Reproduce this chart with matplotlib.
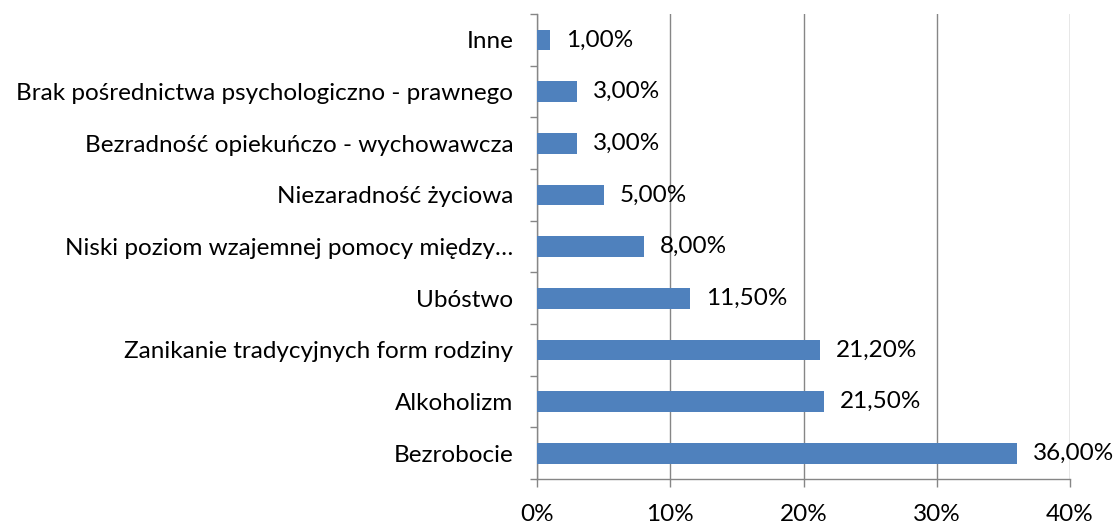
import matplotlib.pyplot as plt
import numpy as np
from matplotlib.ticker import FixedLocator, FuncFormatter

plt.rcParams['font.family'] = ['Lato', 'DejaVu Sans']

categories = ['Bezrobocie', 'Alkoholizm', 'Zanikanie tradycyjnych form rodziny', 'Ubóstwo',
              'Niski poziom wzajemnej pomocy między…', 'Niezaradność życiowa',
              'Bezradność opiekuńczo - wychowawcza',
              'Brak pośrednictwa psychologiczno - prawnego', 'Inne']
values = [36.0, 21.5, 21.2, 11.5, 8.0, 5.0, 3.0, 3.0, 1.0]
value_labels = ['36,00%', '21,50%', '21,20%', '11,50%', '8,00%', '5,00%', '3,00%', '3,00%', '1,00%']
x_ticks = [0, 10, 20, 30, 40]

grey = '#868686'
fs = 17.5
fig = plt.figure(figsize=(11.16, 5.23), dpi=100)
ax = fig.add_axes([0.4812, 0.0841, 0.4776, 0.8891])

y = np.arange(len(categories))
ax.barh(y, values, height=0.4, color='#4F81BD', zorder=3)
for yi, v, lab in zip(y, values, value_labels):
    ax.text(v + 1.2, yi, lab, va='center', ha='left', fontsize=fs, color='black', zorder=4)

ax.set_xlim(0, 40)
ax.set_ylim(-0.5, len(categories) - 0.5)
ax.set_xticks(x_ticks)
ax.xaxis.set_major_formatter(FuncFormatter(lambda v, p: f'{int(v)}%'))
ax.set_yticks(y)
ax.set_yticklabels(categories)
ax.yaxis.set_minor_locator(FixedLocator(np.arange(-0.5, len(categories), 1.0)))
ax.tick_params(axis='y', which='major', length=0, pad=17, labelsize=fs)
ax.tick_params(axis='y', which='minor', length=5, color=grey, width=1)
ax.tick_params(axis='x', length=6, color=grey, width=1, pad=12, labelsize=fs)

ax.grid(axis='x', color=grey, linewidth=1, zorder=0)
for s in ['top', 'right']:
    ax.spines[s].set_visible(False)
for s in ['left', 'bottom']:
    ax.spines[s].set_color(grey)
    ax.spines[s].set_linewidth(1)

plt.savefig('out.png', dpi=100)
